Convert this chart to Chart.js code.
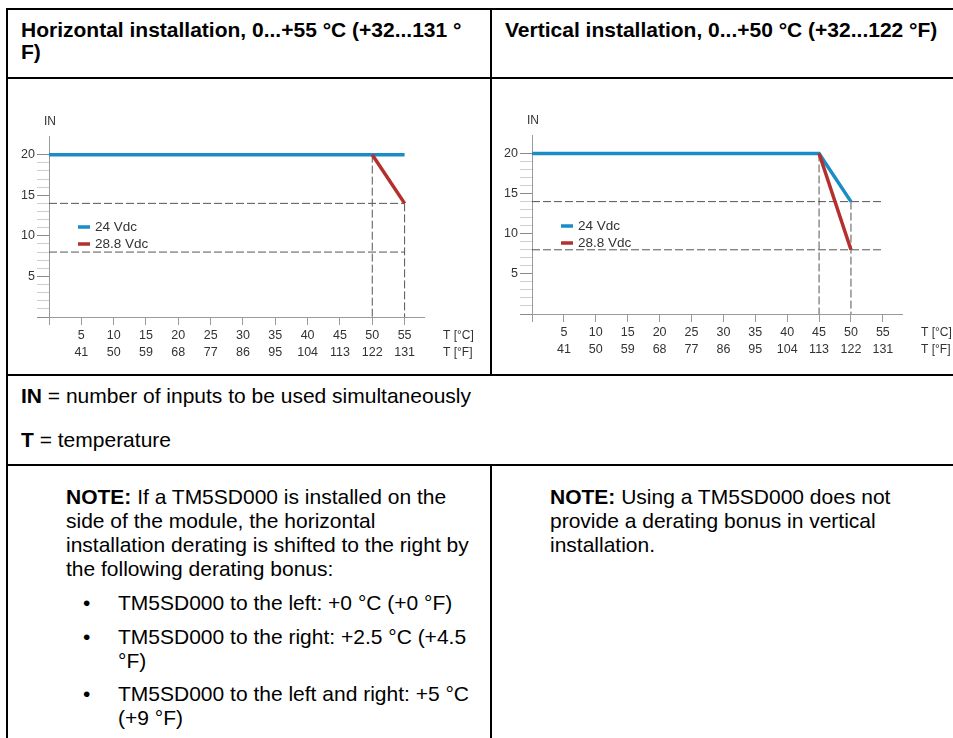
<!DOCTYPE html>
<html>
<head>
<meta charset="utf-8">
<script src="https://cdn.jsdelivr.net/npm/chart.js@4"></script>
<style>
  body { margin: 0; background: #fff; font-family: "Liberation Sans", Arial, sans-serif; color: #000; }
  #page { position: relative; width: 953px; height: 738px; overflow: hidden; }
  .ln { position: absolute; background: #000; }
  .tx { position: absolute; white-space: nowrap; font-size: 21px; line-height: 24px; }
  .hd { font-weight: bold; font-size: 21px; line-height: 22px; }
  canvas { position: absolute; }
</style>
</head>
<body>
<div id="page">
  <!-- table rules -->
  <div class="ln" style="left:6px;top:8px;width:947px;height:2px"></div>
  <div class="ln" style="left:6px;top:8px;width:2px;height:730px"></div>
  <div class="ln" style="left:6px;top:77px;width:947px;height:2px"></div>
  <div class="ln" style="left:490px;top:8px;width:2px;height:367px"></div>
  <div class="ln" style="left:6px;top:374px;width:947px;height:2px"></div>
  <div class="ln" style="left:6px;top:464px;width:947px;height:2px"></div>
  <div class="ln" style="left:490px;top:464px;width:2px;height:274px"></div>

  <div class="tx hd" style="left:21px;top:19px">Horizontal installation, 0...+55 °C (+32...131 °<br>F)</div>
  <div class="tx hd" style="left:505px;top:19px">Vertical installation, 0...+50 °C (+32...122 °F)</div>

  <canvas id="chartH" width="481" height="294" style="left:9px;top:80px"></canvas>
  <canvas id="chartV" width="461" height="294" style="left:492px;top:80px"></canvas>

  <div class="tx" style="left:21px;top:384px"><b>IN</b> = number of inputs to be used simultaneously</div>
  <div class="tx" style="left:21px;top:428px"><b>T</b> = temperature</div>

  <div class="tx" style="left:66px;top:485px"><b>NOTE:</b> If a TM5SD000 is installed on the<br>side of the module, the horizontal<br>installation derating is shifted to the right by<br>the following derating bonus:</div>
  <div class="tx" style="left:83px;top:591px">•</div>
  <div class="tx" style="left:118px;top:591px">TM5SD000 to the left: +0 °C (+0 °F)</div>
  <div class="tx" style="left:83px;top:625px">•</div>
  <div class="tx" style="left:118px;top:625px">TM5SD000 to the right: +2.5 °C (+4.5<br>°F)</div>
  <div class="tx" style="left:83px;top:682px">•</div>
  <div class="tx" style="left:118px;top:682px">TM5SD000 to the left and right: +5 °C<br>(+9 °F)</div>

  <div class="tx" style="left:550px;top:485px"><b>NOTE:</b> Using a TM5SD000 does not<br>provide a derating bonus in vertical<br>installation.</div>
</div>

<script>
// temperature axis ticks (°C with matching °F)
const tempTicksC = [0, 5, 10, 15, 20, 25, 30, 35, 40, 45, 50, 55];
const tempTicksF = [32, 41, 50, 59, 68, 77, 86, 95, 104, 113, 122, 131];
// IN axis ticks, labelled every 5
const inTicks = [0, 1, 2, 3, 4, 5, 6, 7, 8, 9, 10, 11, 12, 13, 14, 15, 16, 17, 18, 19, 20];

const seriesNames = ["24 Vdc", "28.8 Vdc"];
const seriesColors = ["#1a8cc8", "#b3302c"];

// horizontal installation
const hTemp24 = [0, 55];
const hIn24 = [20, 20];
const hTemp288 = [50, 55];
const hIn288 = [20, 14];
// dashed helper lines: [t1, in1, t2, in2]
const hGuides = [[0, 14, 55, 14], [0, 8, 55, 8], [50, 20, 50, 0], [55, 14, 55, 0]];

// vertical installation
const vTemp24 = [0, 45, 50];
const vIn24 = [20, 20, 14];
const vTemp288 = [45, 50];
const vIn288 = [20, 8];
const vGuides = [[0, 14, 55, 14], [0, 8, 55, 8], [45, 20, 45, 0], [50, 14, 50, 0]];

const axisGray = "#9a9a9a";
const textGray = "#333";

function pts(xs, ys) {
  return xs.map((x, i) => ({ x: x, y: ys[i] }));
}

// draws IN / T labels and the small legend inside the plot
const decor = {
  id: "decor",
  afterDraw(chart) {
    const { ctx, chartArea } = chart;
    ctx.save();
    ctx.fillStyle = textGray;
    ctx.font = "12px 'Liberation Sans', Arial, sans-serif";
    ctx.textAlign = "center";
    ctx.textBaseline = "middle";
    ctx.fillText("IN", chartArea.left + 1, chartArea.top - 14);

    const rowY = chartArea.bottom + 19;
    ctx.textAlign = "left";
    ctx.fillText("T [°C]", chartArea.right + 19, rowY);
    ctx.fillText("T [°F]", chartArea.right + 19, rowY + 17);

    ctx.font = "13.5px 'Liberation Sans', Arial, sans-serif";
    seriesNames.forEach((name, i) => {
      const y = chartArea.top + 91 + i * 17;
      const x = chartArea.left + 29;
      ctx.strokeStyle = seriesColors[i];
      ctx.lineWidth = 3.5;
      ctx.beginPath();
      ctx.moveTo(x, y);
      ctx.lineTo(x + 12, y);
      ctx.stroke();
      ctx.fillStyle = textGray;
      ctx.fillText(name, x + 17, y);
    });
    ctx.restore();
  }
};

function makeChart(id, s24, s288, guides, padRight, padTop, xHeight) {
  const datasets = [
    { data: s288, borderColor: seriesColors[1], borderWidth: 3.5 },
    { data: s24, borderColor: seriesColors[0], borderWidth: 3.5 }
  ];
  guides.forEach(g => {
    datasets.push({
      data: [{ x: g[0], y: g[1] }, { x: g[2], y: g[3] }],
      borderColor: "#555",
      borderWidth: 1,
      borderDash: [8, 3]
    });
  });
  datasets.forEach(d => { d.pointRadius = 0; d.tension = 0; d.clip = false; d.borderCapStyle = "butt"; });

  return new Chart(document.getElementById(id), {
    type: "line",
    data: { datasets: datasets },
    plugins: [decor],
    options: {
      responsive: false,
      animation: false,
      layout: { padding: { left: 0, right: padRight, top: padTop, bottom: 0 } },
      plugins: { legend: { display: false }, tooltip: { enabled: false } },
      scales: {
        x: {
          type: "linear",
          min: 0,
          max: 58,
          afterBuildTicks: (a) => { a.ticks = tempTicksC.map(v => ({ value: v })); },
          afterFit: (s) => { s.height = xHeight; },
          border: { color: axisGray },
          grid: { drawOnChartArea: false, tickLength: 8, tickColor: axisGray },
          ticks: {
            autoSkip: false,
            maxRotation: 0,
            padding: 2,
            color: textGray,
            font: { size: 12.5, lineHeight: 1.35 },
            callback: (v) => {
              const i = tempTicksC.indexOf(v);
              return i > 0 ? [String(tempTicksC[i]), String(tempTicksF[i])] : "";
            }
          }
        },
        y: {
          type: "linear",
          min: 0,
          max: 22.3,
          afterBuildTicks: (a) => { a.ticks = inTicks.map(v => ({ value: v })); },
          afterFit: (s) => { s.width = 40; },
          border: { color: axisGray },
          grid: {
            drawOnChartArea: false,
            tickLength: 12,
            tickColor: (c) => (c.tick && c.tick.value % 5 === 0 ? "#8a8a8a" : "#cfcfcf")
          },
          ticks: {
            autoSkip: false,
            padding: 2,
            color: textGray,
            font: { size: 12.5 },
            callback: (v) => (v % 5 === 0 && v > 0 ? String(v) : "")
          }
        }
      }
    }
  });
}

makeChart("chartH", pts(hTemp24, hIn24), pts(hTemp288, hIn288), hGuides, 66, 56, 57);
makeChart("chartV", pts(vTemp24, vIn24), pts(vTemp288, vIn288), vGuides, 51, 55, 60);
</script>
</body>
</html>
